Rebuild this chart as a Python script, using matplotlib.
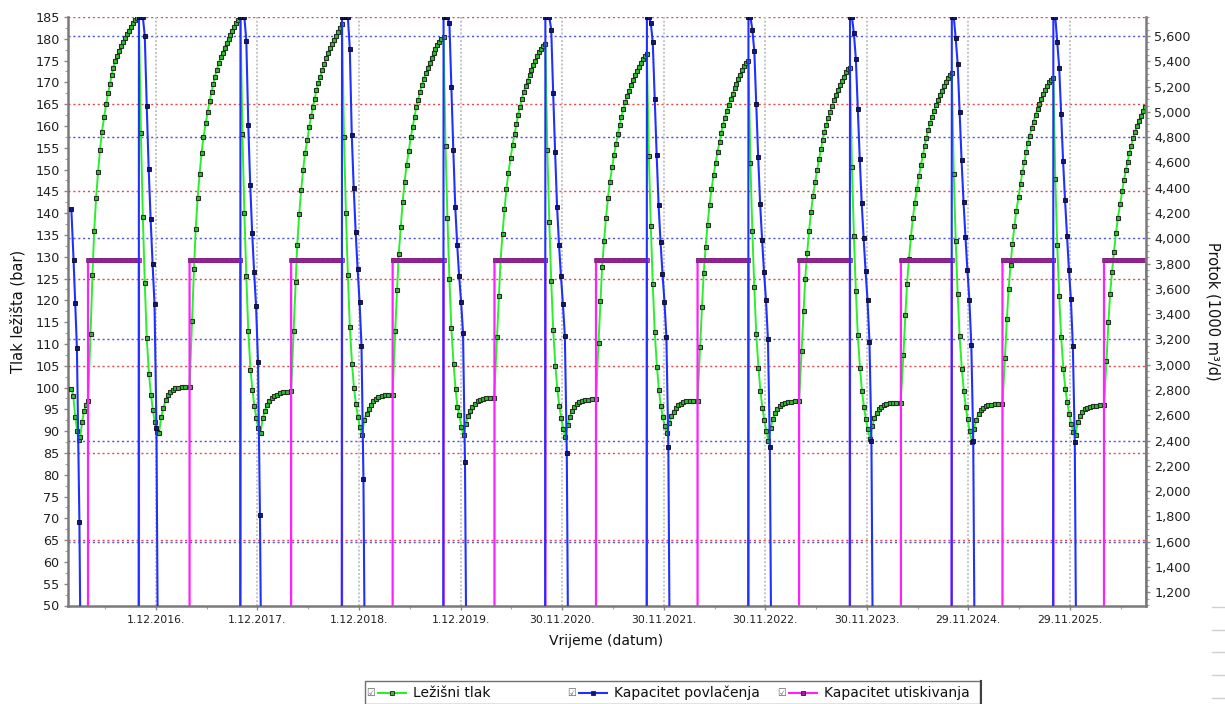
import numpy as np
import pandas as pd
import matplotlib
matplotlib.use("Agg")
import matplotlib.pyplot as plt
import matplotlib.transforms as mtransforms
from matplotlib.lines import Line2D
from matplotlib.patches import Rectangle
from matplotlib.ticker import MultipleLocator, FuncFormatter

W, H = 1225, 704

# ---- data --------------------------------------------------------------
# injection runs 1 April -> 1 October; the peak is the end of injection
inj_start = ["2016-04-01", "2017-04-01", "2018-04-01", "2019-04-01", "2020-04-01",
             "2021-04-01", "2022-04-01", "2023-04-01", "2024-04-01", "2025-04-01",
             "2026-04-01"]
peak_dates = ["2016-10-01", "2017-10-01", "2018-10-01", "2019-10-01", "2020-10-01",
              "2021-10-01", "2022-10-01", "2023-10-01", "2024-10-01", "2025-10-01"]
data_end = "2026-08-31"

# days after injection start / after the peak at which the simulator wrote points
rise_days = [9, 16, 22, 29, 36, 43, 50, 58, 65, 72, 79, 85, 91, 98, 105, 112, 119,
             126, 133, 140, 147, 154, 161, 168, 175]
fall_days = [0, 7, 14, 21, 28, 36, 43, 50, 57, 64, 72, 80, 88, 96, 104, 113, 122,
             131, 142, 154, 167, 182]
blue_days = [0, 7, 14, 21, 28, 35, 42, 49, 56, 63, 70, 77, 84]

# start of the series (end of the 2015/16 withdrawal)
head_dates = ["2016-02-01", "2016-02-08", "2016-02-15", "2016-02-22", "2016-02-27",
              "2016-03-04", "2016-03-11", "2016-03-18", "2016-03-25", "2016-04-01"]
head_tlak = [99.7, 98.1, 93.3, 90.1, 88.0, 88.7, 92.2, 94.7, 96.1, 97.0]
head_povl_dates = ["2016-02-01", "2016-02-09", "2016-02-15", "2016-02-21",
                   "2016-03-01", "2016-03-08"]
head_povl = [4232, 3829, 3489, 3134, 1758, 0]

# reservoir pressure while injecting (bar)
rise_tlak = [
    [112.3, 125.9, 135.8, 143.4, 149.4, 154.5, 158.7, 162.1, 165.0, 167.5, 169.6, 171.6, 173.4,
     174.8, 176.1, 177.3, 178.4, 179.3, 180.1, 181.0, 181.9, 182.8, 183.6, 184.2, 184.8],
    [115.3, 127.3, 136.3, 143.4, 149.0, 153.8, 157.4, 160.6, 163.2, 165.7, 167.7, 169.6, 171.3,
     172.9, 174.4, 175.8, 176.8, 178.0, 179.0, 179.9, 180.9, 181.9, 182.8, 183.6, 184.3],
    [112.9, 124.1, 132.8, 139.7, 145.2, 149.8, 153.7, 156.7, 159.7, 162.3, 164.4, 166.3, 168.3,
     169.8, 171.3, 172.8, 174.2, 175.5, 176.7, 177.8, 178.7, 179.7, 180.6, 181.5, 182.4],
    [112.9, 122.4, 130.7, 136.8, 142.6, 147.2, 151.0, 154.3, 157.4, 159.8, 162.1, 164.3, 165.9,
     167.8, 169.4, 170.8, 172.1, 173.2, 174.4, 175.5, 176.7, 177.6, 178.6, 179.3, 179.9],
    [111.5, 121.0, 129.2, 135.3, 140.9, 145.5, 149.3, 152.6, 155.6, 158.1, 160.4, 162.6, 164.3,
     166.1, 167.7, 169.1, 170.4, 171.6, 172.8, 173.9, 175.0, 176.0, 176.9, 177.7, 178.3],
    [110.3, 119.8, 127.6, 133.6, 139.0, 143.5, 147.2, 150.5, 153.4, 155.9, 158.2, 160.3, 162.1,
     163.8, 165.4, 166.8, 168.1, 169.3, 170.5, 171.6, 172.6, 173.6, 174.5, 175.3, 176.0],
    [109.2, 118.5, 126.2, 132.2, 137.4, 141.8, 145.5, 148.7, 151.6, 154.1, 156.3, 158.4, 160.2,
     161.9, 163.5, 164.9, 166.2, 167.4, 168.6, 169.7, 170.8, 171.8, 172.8, 173.7, 174.4],
    [108.3, 117.5, 125.0, 130.9, 136.0, 140.3, 144.0, 147.2, 150.0, 152.5, 154.7, 156.8, 158.6,
     160.3, 161.9, 163.3, 164.6, 165.9, 167.1, 168.2, 169.3, 170.3, 171.3, 172.3, 173.0],
    [107.5, 116.6, 123.8, 129.5, 134.6, 138.8, 142.4, 145.6, 148.5, 151.0, 153.3, 155.4, 157.3,
     159.0, 160.6, 162.1, 163.5, 164.8, 166.0, 167.1, 168.1, 169.2, 170.2, 171.1, 171.8],
    [106.8, 115.8, 122.5, 128.0, 133.0, 137.0, 140.6, 143.8, 146.8, 149.5, 151.8, 154.0, 156.0,
     157.8, 159.5, 161.0, 162.5, 163.8, 165.0, 166.2, 167.3, 168.3, 169.2, 170.0, 170.6],
    [106.2, 115.0, 121.4, 126.6, 131.2, 135.4, 138.9, 142.1, 145.0, 147.6, 149.9, 151.8, 153.8,
     155.5, 157.2, 158.7, 160.1, 161.2, 162.4, 163.5, 164.3],
]

# reservoir pressure from the peak through withdrawal and rest (bar)
fall_tlak = [
    [185.0, 158.4, 139.2, 124.0, 111.4, 103.2, 98.4, 94.9, 92.0, 89.8, 89.5,
     93.2, 95.3, 97.2, 98.2, 99.0, 99.4, 99.8, 100.0, 100.1, 100.2, 100.2],
    [185.0, 158.1, 140.0, 125.5, 113.0, 104.1, 99.4, 95.8, 93.0, 90.7, 89.6,
     92.9, 94.7, 96.0, 96.9, 97.5, 98.0, 98.4, 98.7, 98.9, 99.0, 99.1],
    [183.5, 157.5, 140.1, 125.9, 114.0, 105.4, 99.9, 96.3, 93.3, 91.0, 89.1,
     92.6, 94.0, 95.1, 96.0, 96.8, 97.4, 97.8, 98.0, 98.2, 98.3, 98.4],
    [180.4, 155.4, 138.8, 125.0, 113.7, 105.4, 99.7, 95.5, 93.6, 91.0, 89.1,
     91.6, 93.5, 94.7, 95.6, 96.3, 96.8, 97.1, 97.3, 97.5, 97.6, 97.7],
    [178.7, 154.5, 138.0, 124.5, 113.3, 105.0, 99.6, 95.8, 93.0, 90.6, 88.6,
     91.4, 93.3, 94.6, 95.5, 96.2, 96.6, 96.9, 97.1, 97.2, 97.3, 97.3],
    [176.4, 153.0, 137.0, 123.8, 112.8, 104.8, 99.5, 95.8, 93.2, 91.2, 89.5,
     91.8, 93.4, 94.5, 95.3, 95.9, 96.3, 96.6, 96.8, 96.9, 97.0, 97.0],
    [174.8, 151.5, 135.8, 123.0, 112.3, 104.5, 99.2, 95.4, 92.5, 90.0, 87.8,
     90.8, 92.8, 94.1, 95.1, 95.8, 96.2, 96.5, 96.6, 96.7, 96.8, 96.8],
    [173.4, 150.5, 134.8, 122.2, 112.0, 104.4, 99.3, 95.6, 92.8, 90.4, 88.3,
     91.1, 93.0, 94.2, 95.0, 95.6, 96.0, 96.2, 96.4, 96.5, 96.5, 96.5],
    [172.2, 149.0, 133.6, 121.5, 111.8, 104.3, 99.3, 95.6, 92.7, 90.0, 87.6,
     90.6, 92.6, 93.9, 94.8, 95.4, 95.8, 96.0, 96.1, 96.2, 96.2, 96.2],
    [170.9, 147.8, 132.6, 120.9, 111.6, 104.3, 99.7, 96.6, 93.9, 91.7, 89.7,
     89.2, 92.2, 93.4, 94.5, 95.0, 95.4, 95.6, 95.8, 95.8, 95.9, 95.9],
]

# withdrawal capacity after each peak (1000 m3/d)
povl_cap = [
    [5750, 5750, 5750, 5600, 5050, 4550, 4150, 3800, 3480, 2500, 0, 0, 0],
    [5750, 5750, 5750, 5560, 4896, 4422, 4043, 3734, 3466, 3023, 1813, 0, 0],
    [5750, 5750, 5750, 5750, 5500, 4820, 4400, 4050, 3760, 3500, 3150, 2100, 0],
    [5750, 5750, 5750, 5700, 5200, 4700, 4250, 3950, 3700, 3500, 3250, 2230, 0],
    [5750, 5750, 5750, 5650, 5150, 4680, 4250, 3950, 3700, 3480, 3230, 2300, 0],
    [5750, 5750, 5700, 5550, 5100, 4660, 4260, 3970, 3720, 3500, 3220, 2350, 0],
    [5750, 5750, 5650, 5480, 5060, 4640, 4270, 3990, 3730, 3510, 3200, 2350, 0],
    [5750, 5750, 5620, 5420, 5020, 4630, 4280, 4000, 3740, 3510, 3180, 2400, 0],
    [5750, 5750, 5580, 5380, 5000, 4620, 4290, 4010, 3750, 3515, 3160, 2400, 0],
    [5750, 5750, 5550, 5350, 4980, 4610, 4300, 4020, 3750, 3520, 3150, 2390, 0],
]

# injection capacity during each injection season (1000 m3/d)
utis_cap = [3830, 3830, 3830, 3830, 3830, 3830, 3830, 3830, 3830, 3830, 3830]

tick_dates = ["2016-12-01", "2017-12-01", "2018-12-01", "2019-12-01", "2020-11-30",
              "2021-11-30", "2022-11-30", "2023-11-30", "2024-11-29", "2025-11-29"]
tick_labels = ["1.12.2016.", "1.12.2017.", "1.12.2018.", "1.12.2019.", "30.11.2020.",
               "30.11.2021.", "30.11.2022.", "30.11.2023.", "29.11.2024.", "29.11.2025."]

# ---- build the series ----------------------------------------------------
days = lambda n: pd.Timedelta(days=n)

tlak_t = list(pd.to_datetime(head_dates))
tlak_v = list(head_tlak)
for k, s in enumerate(inj_start):
    s = pd.Timestamp(s)
    vals = rise_tlak[k]
    tlak_t += [s + days(d) for d in rise_days[:len(vals)]]
    tlak_v += vals
    if k < len(peak_dates):
        p = pd.Timestamp(peak_dates[k])
        tlak_t += [p + days(d) for d in fall_days]
        tlak_v += fall_tlak[k]

povl_t = list(pd.to_datetime(head_povl_dates))
povl_v = list(head_povl)
for k, p in enumerate(peak_dates):
    p = pd.Timestamp(p)
    povl_t += [p - days(1)] + [p + days(d) for d in blue_days]
    povl_v += [0] + povl_cap[k]

inj_end = peak_dates + [data_end]
utis_t, utis_v = [], []
for k, s in enumerate(inj_start):
    rng = pd.date_range(s, inj_end[k], freq="D")
    utis_t += [rng[0]] + list(rng) + [rng[-1]]
    utis_v += [0] + [utis_cap[k]] * len(rng) + [0]

# ---- figure --------------------------------------------------------------
GREEN = "#2bef2b"
BLUE = "#2030ff"
MAGENTA = "#ff20ff"

fig = plt.figure(figsize=(W / 100, H / 100), dpi=100)
ax = fig.add_axes([68 / W, 1 - 605.5 / H, (1146 - 68) / W, (605.5 - 17) / H])
ax2 = ax.twinx()

ax.set_ylim(50, 185)
ax2.set_ylim(1096, 5750)
ax.set_xlim(pd.Timestamp("2016-01-20"), pd.Timestamp("2026-08-30"))

# grid lines: red ones follow the pressure axis, blue ones the flow axis
for v in np.arange(185, 50, -20):
    ax.axhline(v, color="#e84848", lw=1, ls=(0, (1.5, 2)), zorder=1)
trans = mtransforms.blended_transform_factory(ax.transAxes, ax2.transData)
for v in np.arange(5600, 1096, -800):
    ax.plot([0, 1], [v, v], transform=trans, color="#5050e8", lw=1,
            ls=(0, (1.5, 2)), zorder=1)

ax.plot(tlak_t, tlak_v, color=GREEN, lw=1.4, marker="s", ms=3.3,
        mfc="#30c030", mec="#243024", mew=0.8, zorder=3)
ax2.plot(povl_t, povl_v, color=BLUE, lw=1.5, marker="s", ms=3.3,
         mfc="#16167a", mec="#050520", mew=0.6, zorder=3)
ax2.plot(utis_t, utis_v, color=MAGENTA, lw=1.6, marker="s", ms=2.4, markevery=2,
         mfc="#e030e0", mec="#7a207a", mew=0.5, zorder=2)

# x axis
major = pd.to_datetime(tick_dates)
ax.set_xticks(major)
ax.set_xticklabels(tick_labels)
minor = [d - days(182) for d in major] + [major[-1] + days(183)]
ax.set_xticks(minor, minor=True)
ax.grid(axis="x", which="major", color="#c4c4c4", ls=(0, (1, 1)), lw=1.4, zorder=0)

# y axes
ax.set_yticks(np.arange(50, 186, 5))
ax.yaxis.set_minor_locator(MultipleLocator(2.5))
ax2.set_yticks(np.arange(1200, 5601, 200))
ax2.yaxis.set_minor_locator(MultipleLocator(50))
ax2.yaxis.set_major_formatter(FuncFormatter(lambda v, p: f"{int(v):,}"))

for a in (ax, ax2):
    a.tick_params(which="major", length=3, width=1, color="#8a8a8a",
                  labelcolor="#202020")
    a.tick_params(which="minor", length=2, width=0.8, color="#a0a0a0")
ax.tick_params(axis="y", labelsize=9.2, pad=3)
ax2.tick_params(axis="y", labelsize=9.2, pad=3)
ax.tick_params(axis="x", labelsize=7.8, pad=4)

for s in ("top", "right"):
    ax.spines[s].set_visible(False)
for s in ("top", "left", "bottom"):
    ax2.spines[s].set_visible(False)
for sp in (ax.spines["left"], ax.spines["bottom"], ax2.spines["right"]):
    sp.set_color("#7a7a7a")
    sp.set_linewidth(1.8)

fig.text(18 / W, 1 - 311 / H, "Tlak ležišta (bar)", rotation=90, fontsize=10.5,
         ha="center", va="center", color="#101010")
fig.text(1213 / W, 1 - 311 / H, "Protok (1000 m³/d)", rotation=270, fontsize=10.5,
         ha="center", va="center", color="#101010")
fig.text(606 / W, 1 - 641 / H, "Vrijeme (datum)", fontsize=10, ha="center",
         va="center", color="#101010")

# legend box at the bottom, drawn like the application's checkbox legend
fy = 1 - 693 / H
fig.patches.append(Rectangle((365 / W, 0), (980 - 365) / W, (704 - 681) / H,
                             transform=fig.transFigure, fill=False,
                             ec="#707070", lw=1))
fig.lines.append(Line2D([981 / W, 981 / W], [0, 1 - 681 / H], transform=fig.transFigure,
                        color="#404040", lw=1.5))
entries = [(371, "Ležišni tlak", GREEN, "#30c030"),
           (572, "Kapacitet povlačenja", BLUE, "#16167a"),
           (782, "Kapacitet utiskivanja", MAGENTA, "#a020a0")]
for x0, label, lc, mc in entries:
    fig.text(x0 / W, fy, "☑", fontsize=7, color="#606060", ha="center", va="center")
    fig.lines.append(Line2D([(x0 + 7) / W, (x0 + 35) / W], [fy, fy],
                            transform=fig.transFigure, color=lc, lw=1.5))
    fig.lines.append(Line2D([(x0 + 21) / W], [fy], transform=fig.transFigure,
                            marker="s", ms=3, mfc=mc, mec="#202020", mew=0.6))
    fig.text((x0 + 42) / W, fy, label, fontsize=10, ha="left", va="center",
             color="#101010")

# short grey strokes at the right edge of the window
for y in (607, 630, 652, 675, 698):
    fig.lines.append(Line2D([1212 / W, 1225 / W], [1 - y / H, 1 - y / H],
                            transform=fig.transFigure, color="#d0d0d0", lw=1))

fig.savefig("out.png", dpi=100)
